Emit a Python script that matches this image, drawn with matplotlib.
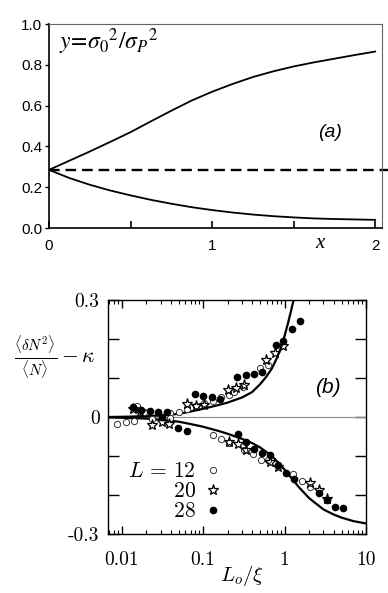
import matplotlib.pyplot as plt
from matplotlib.ticker import NullFormatter

plt.rcParams['mathtext.fontset'] = 'cm'

# panel (a): y = sigma_0^2 / sigma_P^2 against x
x_a = [0, 0.125, 0.25, 0.375, 0.5, 0.625, 0.75, 0.875, 1.0, 1.125, 1.25, 1.375, 1.5, 1.625, 1.75, 1.875, 2.0]
y_a_upper = [0.285, 0.33, 0.375, 0.422, 0.47, 0.523, 0.575, 0.625, 0.668, 0.706, 0.74, 0.768, 0.792, 0.812, 0.83, 0.848, 0.865]
y_a_lower = [0.285, 0.245, 0.212, 0.184, 0.16, 0.138, 0.119, 0.102, 0.088, 0.076, 0.066, 0.058, 0.052, 0.047, 0.044, 0.042, 0.04]
y_a_dashed = 0.285

# panel (b): theory curves
x_b_upper = [0.0068, 0.01, 0.02, 0.03, 0.05, 0.07, 0.1, 0.15, 0.2, 0.3, 0.4, 0.5, 0.6, 0.7, 0.8, 0.9, 1.0, 1.1, 1.2, 1.3, 1.4]
y_b_upper = [0.0, 0.0005, 0.002, 0.004, 0.008, 0.014, 0.021, 0.03, 0.037, 0.05, 0.064, 0.084, 0.104, 0.125, 0.15, 0.177, 0.208, 0.24, 0.272, 0.303, 0.335]
x_b_lower = [0.0068, 0.01, 0.02, 0.03, 0.05, 0.07, 0.1, 0.15, 0.2, 0.3, 0.4, 0.5, 0.7, 1.0, 1.5, 2.0, 3.0, 4.0, 5.0, 7.0, 10.0]
y_b_lower = [-0.001, -0.002, -0.004, -0.007, -0.012, -0.018, -0.025, -0.035, -0.043, -0.056, -0.067, -0.078, -0.1, -0.135, -0.18, -0.208, -0.237, -0.25, -0.258, -0.267, -0.273]

# panel (b): simulation points, L = 12 (open circles)
x_L12 = [0.00867, 0.0113, 0.0140, 0.0154, 0.0189, 0.0235, 0.0397, 0.0397, 0.0504, 0.0639, 0.0811, 0.103, 0.131, 0.166, 0.210, 0.242, 0.307, 0.495, 0.628,
         0.131, 0.166, 0.210, 0.322, 0.409, 0.519, 0.628, 1.281, 1.624, 2.061]
y_L12 = [-0.018, -0.013, -0.010, 0.027, 0.014, -0.006, 0.009, -0.003, 0.012, 0.021, 0.028, 0.035, 0.042, 0.050, 0.056, 0.065, 0.078, 0.125, 0.133,
         -0.046, -0.057, -0.066, -0.085, -0.095, -0.110, -0.110, -0.146, -0.163, -0.180]
# L = 20 (stars)
x_L20 = [0.0137, 0.0169, 0.0639, 0.0811, 0.103, 0.200, 0.254, 0.322, 0.598, 0.759, 0.963,
         0.0235, 0.0313, 0.0379, 0.210, 0.267, 0.332, 0.658, 0.835, 2.061, 2.615, 3.316]
y_L20 = [0.020, 0.014, 0.033, 0.028, 0.031, 0.069, 0.074, 0.082, 0.146, 0.165, 0.182,
         -0.020, -0.012, -0.018, -0.063, -0.068, -0.085, -0.115, -0.127, -0.170, -0.187, -0.211]
# L = 28 (filled dots)
x_L28 = [0.0137, 0.0174, 0.0222, 0.0282, 0.0358, 0.0796, 0.101, 0.127, 0.161, 0.262, 0.332, 0.417, 0.529, 0.774, 0.945, 1.221, 1.564,
         0.0313, 0.0494, 0.0627, 0.267, 0.332, 0.421, 0.534, 0.671, 0.835, 1.039, 1.318, 2.615, 3.316, 4.207, 5.186]
y_L28 = [0.025, 0.018, 0.016, 0.014, 0.012, 0.058, 0.054, 0.050, 0.046, 0.103, 0.107, 0.110, 0.115, 0.185, 0.195, 0.225, 0.247,
         0.001, -0.027, -0.036, -0.044, -0.063, -0.083, -0.093, -0.097, -0.123, -0.144, -0.159, -0.196, -0.213, -0.232, -0.233]

fig = plt.figure(figsize=(3.88, 5.93), dpi=100)

# ---- panel (a)
ax1 = fig.add_axes([0.1263, 0.6155, 0.8575, 0.344])
ax1.plot(x_a, y_a_upper, c='black', lw=1.3)
ax1.plot(x_a, y_a_lower, c='black', lw=1.3)
ax1.axhline(y_a_dashed, xmin=0, xmax=1.02, c='black', lw=1.7, ls=(0, (4.5, 2.5)), clip_on=False)
ax1.set_xlim(0, 2.04)
ax1.set_ylim(0, 1.0)
ax1.set_xticks([0, 1, 2])
ax1.set_xticks([0.5, 1.5], minor=True)
ax1.set_yticks([0, 0.2, 0.4, 0.6, 0.8, 1.0], labels=['0.0', '0.2', '0.4', '0.6', '0.8', '1.0'])
ax1.tick_params(axis='x', which='both', direction='in', length=5, width=1.2, pad=8)
ax1.tick_params(axis='y', direction='out', length=3, width=1.0, pad=2)
for lab in ax1.get_xticklabels() + ax1.get_yticklabels():
    lab.set_family('Liberation Sans')
    lab.set_fontsize(11)
for side in ['top', 'right']:
    ax1.spines[side].set_color('0.4')
    ax1.spines[side].set_linewidth(0.8)
for side in ['left', 'bottom']:
    ax1.spines[side].set_linewidth(1.2)
ax1.text(1.66, -0.075, 'x', transform=ax1.get_xaxis_transform(), fontsize=15, style='italic',
         family='Liberation Serif', ha='center', va='center')
ax1.text(0.03, 0.915, r'$y\!=\!\sigma_0{}^2/\sigma_P{}^2$', transform=ax1.transAxes,
         fontsize=17, math_fontfamily='stix', va='center')
ax1.text(0.845, 0.466, '(a)', transform=ax1.transAxes, fontsize=14, style='italic',
         family='Liberation Sans', ha='center', va='center')

# ---- panel (b)
ax2 = fig.add_axes([0.2784, 0.0995, 0.665, 0.3946])
ax2.set_xscale('log')
ax2.axhline(0, color='0.55', lw=0.8)
ax2.plot(x_b_upper, y_b_upper, c='black', lw=1.6)
ax2.plot(x_b_lower, y_b_lower, c='black', lw=1.6)
ax2.plot(x_L12, y_L12, 'o', ms=4.5, mfc='white', mec='0.2', mew=0.7, ls='none', label=r'$L\,=\,12$')
ax2.plot(x_L20, y_L20, '*', ms=8, mfc='none', mec='black', mew=0.9, ls='none', label=r'$\qquad\;\;20$')
ax2.plot(x_L28, y_L28, 'o', ms=4.5, mfc='black', mec='black', ls='none', label=r'$\qquad\;\;28$')
ax2.set_xlim(0.0068, 10)
ax2.set_ylim(-0.3, 0.3)
ax2.set_yticks([-0.3, -0.2, -0.1, 0, 0.1, 0.2, 0.3], labels=['-0.3', '', '', '0', '', '', '0.3'])
ax2.set_xticks([0.01, 0.1, 1, 10], labels=['0.01', '0.1', '1', '10'])
ax2.xaxis.set_minor_formatter(NullFormatter())
ax2.tick_params(which='both', direction='in', top=True, right=True)
ax2.tick_params(axis='y', length=8, width=1.0, pad=6)
ax2.tick_params(axis='x', which='major', length=6, width=1.0, pad=12)
ax2.tick_params(axis='x', which='minor', length=3, width=0.8)
for lab in ax2.get_xticklabels() + ax2.get_yticklabels():
    lab.set_family('cmr10')
    lab.set_fontsize(14)
for side in ax2.spines:
    ax2.spines[side].set_linewidth(1.0)
ax2.set_ylabel(r'$\frac{\langle \delta N^2\rangle}{\langle N\rangle} - \kappa$', rotation=0, fontsize=15.5,
               ha='center', va='center')
ax2.yaxis.set_label_coords(-0.205, 0.756)
ax2.set_xlabel(r'$L_o/\xi$', fontsize=15, va='center')
ax2.xaxis.set_label_coords(0.52, -0.178)
ax2.text(0.853, 0.628, '(b)', transform=ax2.transAxes, fontsize=15, style='italic',
         family='Liberation Sans', ha='center', va='center')
ax2.legend(loc='lower left', bbox_to_anchor=(0.065, 0.055), markerfirst=False, frameon=False,
           prop={'size': 15.5, 'math_fontfamily': 'cm'}, handletextpad=0.3, labelspacing=0.0,
           handlelength=1.0, borderpad=0, borderaxespad=0, numpoints=1)

fig.savefig('out.png', dpi=100)
